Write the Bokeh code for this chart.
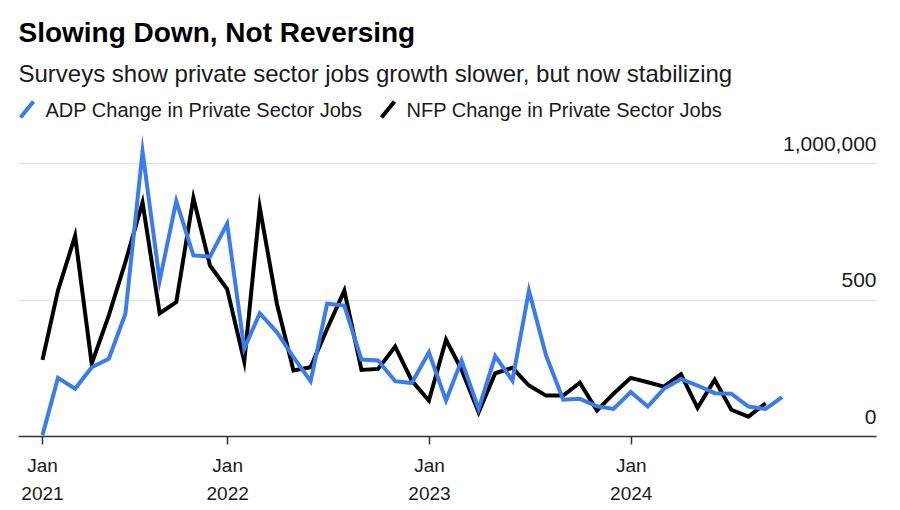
import pandas as pd
from bokeh.plotting import figure
from bokeh.models import (Range1d, FixedTicker, Grid, ColumnDataSource, LabelSet,
                          CustomJSTickFormatter)
from bokeh.layouts import column
from bokeh.core.properties import value
from bokeh.embed import file_html
from bokeh.resources import INLINE

FONT = "Liberation Sans"

# ---------------- data (thousands of jobs, monthly) ----------------
first_month = "2021-01-31"
adp_jobs_k = [5, 215, 175, 254, 285, 450, 1045, 572, 863, 664, 660, 780,
              322, 452, 383, 291, 203, 487, 480, 282, 279, 203, 196, 309,
              132, 279, 101, 295, 205, 535, 297, 135, 138, 111, 101, 163,
              110, 175, 211, 187, 159, 157, 110, 101, 144]
nfp_jobs_k = [281, 535, 736, 267, 444, 640, 858, 452, 493, 875, 627, 541,
              275, 840, 487, 242, 254, 395, 535, 244, 248, 330, 205, 132,
              355, 245, 89, 232, 252, 187, 150, 150, 197, 95, 157, 215,
              199, 183, 228, 105, 208, 98, 73, 122]
x_tick_dates = ["2021-01-31", "2022-01-01", "2023-01-01", "2024-01-01"]
x_tick_labels = ["Jan\n2021", "Jan\n2022", "Jan\n2023", "Jan\n2024"]
y_ticks = [0, 500, 1000]
y_tick_labels = ["0", "500", "1,000,000"]
series_names = ["ADP Change in Private Sector Jobs", "NFP Change in Private Sector Jobs"]
title_text = "Slowing Down, Not Reversing"
subtitle_text = "Surveys show private sector jobs growth slower, but now stabilizing"

BLUE = "#3b7cec"
BLACK = "#000000"
TEXT = "#1a1a1a"

EPOCH = pd.Timestamp("1970-01-01")


def to_ms(ts):
    return (pd.Timestamp(ts) - EPOCH) / pd.Timedelta(milliseconds=1)


adp_dates = pd.date_range(first_month, periods=len(adp_jobs_k), freq=pd.offsets.MonthEnd())
nfp_dates = pd.date_range(first_month, periods=len(nfp_jobs_k), freq=pd.offsets.MonthEnd())
adp_src = ColumnDataSource(dict(x=[to_ms(d) for d in adp_dates], y=adp_jobs_k))
nfp_src = ColumnDataSource(dict(x=[to_ms(d) for d in nfp_dates], y=nfp_jobs_k))

DAY = 86400000.0
x0 = to_ms(first_month)
x_start = x0 - 43.4 * DAY
x_end = x0 + 1508.7 * DAY

LEFT, RIGHT = 18, 24

# ---------------- header (title, subtitle, legend) ----------------
# header coordinates are page pixels (x from the left edge, y from the top edge)
head = figure(width=900, height=128, x_range=Range1d(LEFT, 900 - RIGHT), y_range=Range1d(128, 0),
              x_axis_type=None, y_axis_type=None, output_backend="svg",
              toolbar_location=None, min_border_left=LEFT, min_border_right=RIGHT,
              min_border_top=0, min_border_bottom=0)
head.title = None
head.outline_line_color = None
head.xgrid.visible = False
head.ygrid.visible = False

head.text(x=[18], y=[32], text=[title_text], text_font=value(FONT), text_font_size="28px",
          text_font_style="bold", text_color=BLACK, text_baseline="alphabetic")
head.text(x=[18], y=[73], text=[subtitle_text], text_font=value(FONT), text_font_size="24px",
          text_color=TEXT, text_baseline="alphabetic")
head.segment(x0=[20, 381], y0=[117, 117], x1=[33, 394], y1=[101, 101],
             line_color=[BLUE, BLACK], line_width=4)
head.text(x=[45, 406], y=[109, 109], text=series_names, text_font=value(FONT),
          text_font_size="20px", text_color=TEXT, text_baseline="alphabetic")

# ---------------- main chart ----------------
main = figure(width=900, height=382, x_range=Range1d(x_start, x_end), y_range=Range1d(0, 1115),
              x_axis_type="linear", y_axis_type=None, output_backend="svg",
              toolbar_location=None, min_border_left=LEFT, min_border_right=RIGHT,
              min_border_top=4, min_border_bottom=74)
main.title = None
main.outline_line_color = None
main.xgrid.visible = False
main.add_layout(Grid(dimension=1, ticker=FixedTicker(ticks=y_ticks[1:]),
                     grid_line_color="#e4e4e4", grid_line_width=1.5))

ax = main.xaxis[0]
tick_ms = [to_ms(d) for d in x_tick_dates]
ax.ticker = FixedTicker(ticks=tick_ms)
ax.formatter = CustomJSTickFormatter(
    args=dict(tick_values=tick_ms, tick_labels=x_tick_labels),
    code="const i = tick_values.indexOf(tick); return i >= 0 ? tick_labels[i] : '';")
ax.axis_line_color = "#333333"
ax.axis_line_width = 1.5
ax.major_tick_line_color = "#333333"
ax.major_tick_line_width = 1.5
ax.major_tick_out = 8
ax.major_tick_in = 0
ax.minor_tick_line_color = None
ax.major_label_text_font = FONT
ax.major_label_text_font_size = "19px"
ax.major_label_text_color = TEXT
ax.major_label_text_line_height = 1.35
ax.major_label_standoff = 10

main.line("x", "y", source=nfp_src, line_color=BLACK, line_width=4, line_join="miter")
main.line("x", "y", source=adp_src, line_color=BLUE, line_width=4, line_join="miter")

ylab_src = ColumnDataSource(dict(x=[x_end] * len(y_ticks), y=y_ticks, text=y_tick_labels))
main.add_layout(LabelSet(x="x", y="y", text="text", source=ylab_src, text_align="right",
                         text_baseline="alphabetic", y_offset=13, text_font=value(FONT),
                         text_font_size="21px", text_color=TEXT))

layout = column(head, main, spacing=0)
open("out.html", "w").write(file_html(layout, INLINE))
